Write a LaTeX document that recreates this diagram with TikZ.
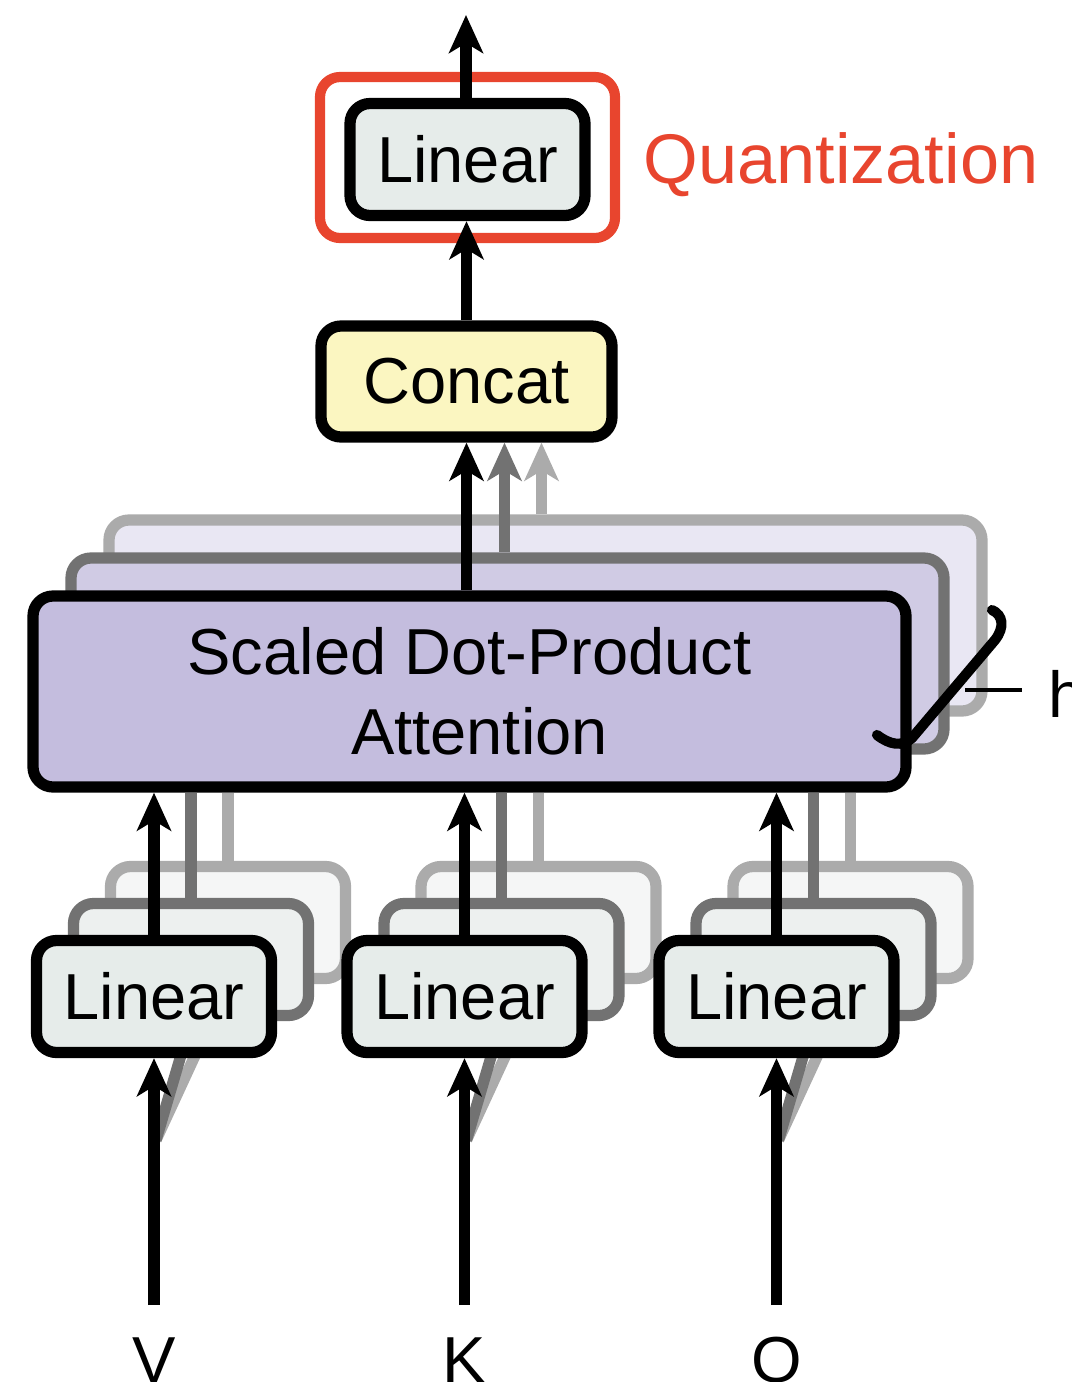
\documentclass[tikz,border=0pt]{standalone}
\usepackage{fontspec}
\setmainfont{Liberation Sans}
\usetikzlibrary{arrows.meta}
\definecolor{linfill}{HTML}{E6ECEA}
\definecolor{linfilltwo}{HTML}{EDF0EF}
\definecolor{linfillthree}{HTML}{F5F6F6}
\definecolor{catfill}{HTML}{FBF6C1}
\definecolor{attfill}{HTML}{C4BDDE}
\definecolor{attfilltwo}{HTML}{D0CBE4}
\definecolor{attfillthree}{HTML}{E9E7F3}
\definecolor{darkgr}{HTML}{727272}
\definecolor{lightgr}{HTML}{ABABAB}
\definecolor{qred}{HTML}{E8452E}

\begin{document}
\begin{tikzpicture}[x=1cm, y=-1cm, line width=3.2pt, >={Stealth[length=3.8mm, width=3.4mm, inset=1mm]},
   linbox/.style={draw, fill=linfill, rounded corners=2mm, minimum width=2.35cm, minimum height=1.12cm, inner sep=0pt, font=\fontsize{18.5}{20}\selectfont},
   attbox/.style={draw, fill=attfill, rounded corners=2mm, minimum width=8.73cm, minimum height=1.91cm, align=center, font=\fontsize{18.5}{22.7}\selectfont},
   lbl/.style={anchor=base, inner sep=0pt, font=\fontsize{18.5}{20}\selectfont},]
   \useasboundingbox (0,0) rectangle (10.72,13.82);
   \clip (0,0) rectangle (10.72,13.82);

   % output part
   \node[draw=qred, line width=2.9pt, rounded corners=2mm, minimum width=2.95cm, minimum height=1.61cm] (qbox) at (4.675, 1.575) {};
   \node[anchor=base west, inner sep=0pt, text=qred, font=\fontsize{20}{22}\selectfont] (qlabel) at (6.38, 1.83) {Quantization};
   \node[linbox] (lintop) at (4.675, 1.595) {Linear};
   \coordinate (out) at (4.66, 0.15);
   \draw[->] (lintop.north -| out) -- (out);
   \node[linbox, fill=catfill, minimum width=2.91cm, minimum height=1.11cm] (concat) at (4.665, 3.815) {Concat};
   \draw[->] (concat.north) -- (concat.north |- lintop.south);

   % h heads
   \node[attbox, draw=lightgr, fill=attfillthree] (att3) at (5.455, 6.155) {};
   \draw[->, lightgr] ([xshift=7.5mm]concat.south |- att3.north) -- ([xshift=7.5mm]concat.south);
   \node[attbox, draw=darkgr, fill=attfilltwo] (att2) at (5.075, 6.535) {};
   \draw[->, darkgr] ([xshift=3.8mm]concat.south |- att2.north) -- ([xshift=3.8mm]concat.south);
   \node[attbox] (att) at (4.695, 6.915) {Scaled Dot-Product\\\hspace*{2mm}Attention};
   \draw[->] (concat.south |- att.north) -- (concat.south);

   \draw[line width=2.9pt, line cap=round] (8.77,7.35) .. controls (8.90,7.45) and (9.02,7.47) .. (9.12,7.38) -- (9.95,6.40) .. controls (10.05,6.27) and (10.03,6.15) .. (9.92,6.10);
   \node[anchor=base west, inner sep=0pt, font=\fontsize{18.5}{20}\selectfont] (hlabel) at (10.43, 7.17) {h};
   \coordinate (hend) at (10.22, 6.90);
   \draw[line width=1.1pt] (9.65, 6.90) -- (hend);

   % V, K, Q projections
   \foreach \name/\x in {V/1.54, K/4.645, Q/7.765} {
      \node[linbox, draw=lightgr, fill=linfillthree] (lin3\name) at (\x+0.74, 9.225) {};
      \draw[lightgr] (lin3\name.north) -- (lin3\name.north |- att.south);
      \node[linbox, draw=darkgr, fill=linfilltwo] (lin2\name) at (\x+0.37, 9.595) {};
      \draw[darkgr] (lin2\name.north) -- (lin2\name.north |- att.south);
      \coordinate (in\name) at (\x, 13.05);
      \coordinate (fan\name) at (\x+0.02, 11.40);
      \draw[lightgr] (fan\name) -- (lin3\name.south);
      \draw[darkgr] (fan\name) -- (lin2\name.south);
      \node[linbox] (lin\name) at (\x, 9.965) {Linear};
      \draw[->] (lin\name.north) -- (lin\name.north |- att.south);
      \draw[->] (in\name) -- (lin\name.south);
      \node[lbl] (lbl\name) at (\x, 13.82) {\name};
   }
   %\draw[dashed] (0,0) rectangle (10.72,13.82);

\end{tikzpicture}
\end{document}
